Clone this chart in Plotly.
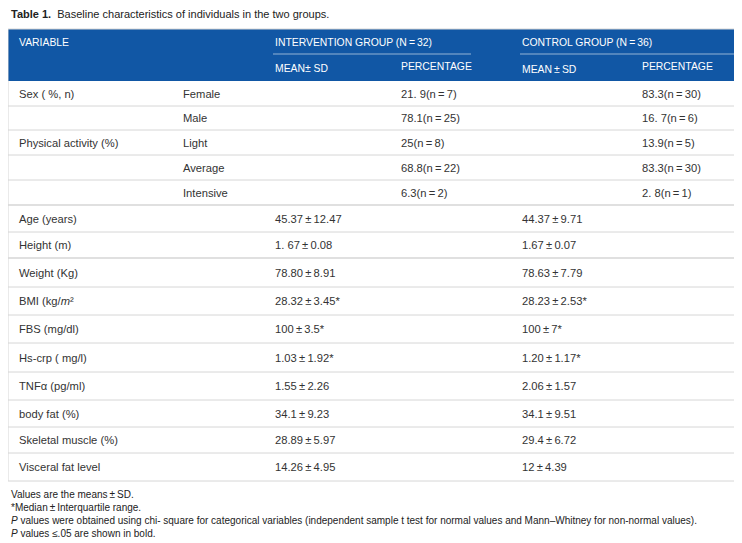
import plotly.graph_objects as go

# ---------------- data ----------------
title_bold = "Table 1."
title_text = "Baseline characteristics of individuals in the two groups."

group_headers = ["INTERVENTION GROUP (N\u2009=\u200932)", "CONTROL GROUP (N\u2009=\u200936)"]
sub_headers = ["MEAN\u00b1 SD", "PERCENTAGE", "MEAN\u2009\u00b1\u2009SD", "PERCENTAGE"]

variables = ["Sex ( %, n)", "", "Physical activity (%)", "", "",
             "Age (years)", "Height (m)", "Weight (Kg)", "BMI (kg/<i>m</i>\u00b2",
             "FBS (mg/dl)", "Hs-crp ( mg/l)", "TNF\u03b1 (pg/ml)", "body fat (%)",
             "Skeletal muscle (%)", "Visceral fat level"]
subcats = ["Female", "Male", "Light", "Average", "Intensive",
           "", "", "", "", "", "", "", "", "", ""]
pm = "\u2009\u00b1\u2009"
eq = "\u2009=\u2009"
int_mean = ["", "", "", "", "",
            "45.37" + pm + "12.47", "1. 67" + pm + "0.08", "78.80" + pm + "8.91",
            "28.32" + pm + "3.45*", "100" + pm + "3.5*", "1.03" + pm + "1.92*",
            "1.55" + pm + "2.26", "34.1" + pm + "9.23", "28.89" + pm + "5.97",
            "14.26" + pm + "4.95"]
int_pct = ["21. 9(n" + eq + "7)", "78.1(n" + eq + "25)", "25(n" + eq + "8)",
           "68.8(n" + eq + "22)", "6.3(n" + eq + "2)",
           "", "", "", "", "", "", "", "", "", ""]
ctl_mean = ["", "", "", "", "",
            "44.37" + pm + "9.71", "1.67" + pm + "0.07", "78.63" + pm + "7.79",
            "28.23" + pm + "2.53*", "100" + pm + "7*", "1.20" + pm + "1.17*",
            "2.06" + pm + "1.57", "34.1" + pm + "9.51", "29.4" + pm + "6.72",
            "12" + pm + "4.39"]
ctl_pct = ["83.3(n" + eq + "30)", "16. 7(n" + eq + "6)", "13.9(n" + eq + "5)",
           "83.3(n" + eq + "30)", "2. 8(n" + eq + "1)",
           "", "", "", "", "", "", "", "", "", ""]

footnotes = ["Values are the means\u2009\u00b1\u2009SD.",
             "*Median\u2009\u00b1\u2009Interquartile range.",
             "<i>P</i> values were obtained using chi- square for categorical variables (independent sample t test for normal values and Mann\u2013Whitney for non-normal values).",
             "<i>P</i> values \u2264.05 are shown in bold."]

# ---------------- layout constants ----------------
W, H = 742, 543          # target window
OFF = 8                  # default page margin of the html body
FONT = "Liberation Sans, Arial, sans-serif"
BLUE = "#1157a5"
TXT = "#333333"
GRID = "#d6d6d6"
left, right = 8, 735
head_top, head_bot = 29, 81
row_heights = [25, 24, 25, 25, 25, 27, 26, 29, 28, 28, 29, 28, 27, 26, 28]
col_x = [17, 181, 273, 399, 520, 640]
thick_after = {4, 6}

shapes = []
ann = []

# header background
shapes.append(dict(type="rect", x0=left, x1=right, y0=head_top, y1=head_bot,
                   fillcolor=BLUE, line=dict(width=0), layer="below"))
# group separator lines
shapes.append(dict(type="line", x0=col_x[2], x1=471, y0=54, y1=54,
                   line=dict(color="rgba(255,255,255,0.55)", width=1)))
shapes.append(dict(type="line", x0=col_x[4], x1=right, y0=54, y1=54,
                   line=dict(color="rgba(255,255,255,0.55)", width=1)))

hfont = dict(family=FONT, size=10.4, color="white")
ann.append(dict(x=col_x[0], y=42, text="VARIABLE", font=hfont))
ann.append(dict(x=col_x[2], y=42, text=group_headers[0], font=hfont))
ann.append(dict(x=col_x[4], y=42, text=group_headers[1], font=hfont))
sub_y = [68, 66, 69, 66]
for i, (t, yy) in enumerate(zip(sub_headers, sub_y)):
    ann.append(dict(x=col_x[2 + i], y=yy, text=t, font=hfont))

# body rows
bfont = dict(family=FONT, size=11.2, color=TXT)
y = head_bot
for i, h in enumerate(row_heights):
    yc = y + h / 2
    for cx, col in zip(col_x, [variables, subcats, int_mean, int_pct, ctl_mean, ctl_pct]):
        if col[i]:
            ann.append(dict(x=cx, y=yc, text=col[i], font=bfont))
    y += h
    if i < len(row_heights) - 1:
        shapes.append(dict(type="line", x0=left, x1=right, y0=y, y1=y,
                           line=dict(color="#e0e0e0" if i in thick_after else GRID,
                                     width=2 if i in thick_after else 1)))
table_bot = y
# outer border
shapes.append(dict(type="rect", x0=left, x1=right, y0=head_top, y1=table_bot,
                   fillcolor="rgba(0,0,0,0)", line=dict(color=GRID, width=1)))

# title
ann.append(dict(x=9, y=14, text="<b>" + title_bold + "</b>  " + title_text,
                font=dict(family=FONT, size=11, color="#222222")))
# footnotes
for k, t in enumerate(footnotes):
    ann.append(dict(x=9, y=494 + 13 * k, text=t,
                    font=dict(family=FONT, size=10, color="#222222")))

for a in ann:
    a.update(xref="x", yref="y", xanchor="left", yanchor="middle", showarrow=False)

fig = go.Figure()
fig.add_trace(go.Scatter(x=[OFF, W], y=[OFF, H], mode="markers",
                         marker=dict(opacity=0), hoverinfo="skip", showlegend=False))
fig.update_layout(width=W - OFF, height=H - OFF, margin=dict(l=0, r=0, t=0, b=0),
                  paper_bgcolor="white", plot_bgcolor="white",
                  shapes=shapes, annotations=ann,
                  xaxis=dict(range=[OFF, W], visible=False, fixedrange=True),
                  yaxis=dict(range=[H, OFF], visible=False, fixedrange=True))
fig.write_html("out.html", config={"displayModeBar": False})
